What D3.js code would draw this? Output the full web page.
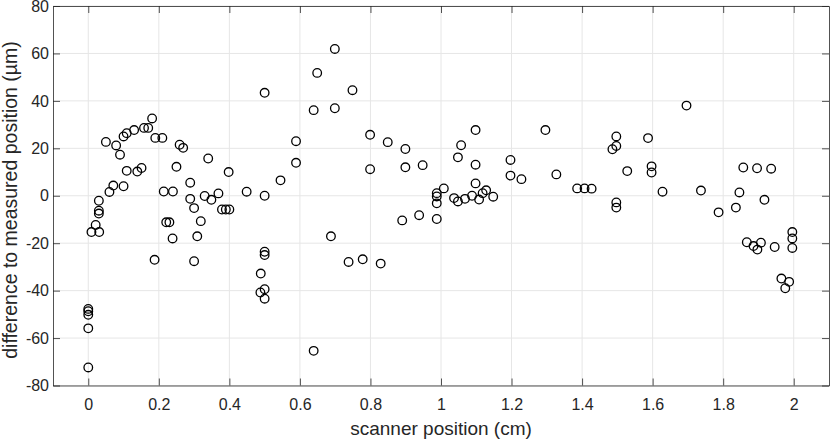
<!DOCTYPE html>
<html>
<head>
<meta charset="utf-8" />
<script src="https://d3js.org/d3.v7.min.js"></script>
<style>
  body { margin: 0; background: #fff; }
  svg text { font-family: "Liberation Sans", Arial, sans-serif; fill: #262626; }
</style>
</head>
<body>
<svg id="chart"></svg>
<script>
// scanner position (cm)
var posX = [0, 0, 0, 0, 0, 0.009, 0.021, 0.031, 0.03, 0.03, 0.03,
  0.05, 0.06, 0.071, 0.079, 0.09, 0.1, 0.1, 0.109, 0.109, 0.13, 0.139, 0.151, 0.158, 0.17, 0.181,
  0.188, 0.19, 0.21, 0.214, 0.221, 0.23, 0.239, 0.24, 0.25, 0.259, 0.269, 0.289, 0.289, 0.3, 0.3,
  0.309, 0.319, 0.33, 0.34, 0.349, 0.369, 0.379, 0.39, 0.4, 0.398, 0.449,
  0.5, 0.5, 0.5, 0.5, 0.489, 0.488, 0.5, 0.5, 0.545, 0.589, 0.589, 0.639, 0.639, 0.649, 0.688,
  0.699, 0.699, 0.738, 0.749, 0.778, 0.799, 0.799, 0.829, 0.849, 0.89, 0.899, 0.899, 0.938, 0.948,
  0.988, 0.988, 0.988, 0.988, 1.008, 1.037, 1.048, 1.048, 1.057, 1.068, 1.088, 1.098, 1.098, 1.098,
  1.108, 1.118, 1.128, 1.148, 1.197, 1.197, 1.228, 1.296, 1.327, 1.386, 1.407, 1.427,
  1.486, 1.497, 1.497, 1.497, 1.497, 1.528, 1.587, 1.597, 1.597, 1.628, 1.696, 1.737, 1.787,
  1.836, 1.846, 1.857, 1.867, 1.886, 1.896, 1.897, 1.907, 1.917, 1.936, 1.946, 1.965, 1.976, 1.987,
  1.996, 1.996, 1.996];

// difference to measured position (um)
var diffY = [-47.7, -48.7, -50.2, -55.9, -72.4, -15.3, -12.3, -15.3, -2.1, -6.3, -7.5,
  22.7, 1.6, 4.3, 21.2, 17.3, 25, 4, 26.4, 10.5, 27.7, 10.2, 11.7, 28.6, 28.6, 32.6,
  -27, 24.4, 24.4, 1.8, -11.2, -11.2, -18, 1.8, 12.2, 21.5, 20.2, 5.5, -1.3, -5.2, -27.6,
  -17.1, -10.7, -0.1, 15.7, -1.7, 1, -5.8, -5.8, -5.8, 10, 1.7,
  43.4, 0, -23.6, -25, -32.8, -40.8, -39.4, -43.4, 6.5, 23, 13.9, 36.1, -65.4, 51.8, -17.1,
  61.9, 36.9, -27.9, 44.5, -26.8, 25.7, 11.2, -28.6, 22.6, -10.4, 19.7, 12, -8.2, 12.9,
  1.1, -0.3, -3.2, -9.8, 3.1, -1, -2.4, 16.2, 21.3, -1.3, 0, 27.7, 13.1, 5.2,
  -1.6, 1.1, 2.3, -0.4, 15.1, 8.5, 7, 27.7, 9, 3.1, 3.1, 3,
  19.6, 21, 25, -2.8, -5, 10.4, 24.3, 12.4, 9.8, 1.7, 38, 2.2, -7,
  -5, 1.4, 11.9, -19.6, -21.2, 11.6, -22.7, -19.8, -1.7, 11.4, -21.6, -34.9, -39, -36.3,
  -15.3, -18, -22];

var xTicks = [0, 0.2, 0.4, 0.6, 0.8, 1, 1.2, 1.4, 1.6, 1.8, 2];
var yTicks = [-80, -60, -40, -20, 0, 20, 40, 60, 80];

var width = 830, height = 439;
var margin = {top: 6, right: 1, bottom: 53.5, left: 53};
var chartWidth = width - margin.left - margin.right;
var chartHeight = height - margin.top - margin.bottom;

var svg = d3.select("#chart").attr("width", width).attr("height", height);

var x = d3.scaleLinear().domain([-0.1, 2.1]).range([margin.left, margin.left + chartWidth]);
var y = d3.scaleLinear().domain([-80, 80]).range([margin.top + chartHeight, margin.top]);

// grid
svg.append("g").selectAll("line").data(xTicks).enter().append("line")
  .attr("x1", d => x(d)).attr("x2", d => x(d))
  .attr("y1", margin.top).attr("y2", margin.top + chartHeight)
  .attr("stroke", "#e6e6e6").attr("stroke-width", 1);
svg.append("g").selectAll("line").data(yTicks).enter().append("line")
  .attr("x1", margin.left).attr("x2", margin.left + chartWidth)
  .attr("y1", d => y(d)).attr("y2", d => y(d))
  .attr("stroke", "#e6e6e6").attr("stroke-width", 1);

// axes (ticks inward, box on all sides)
var tickLen = 7;
var fmt = d => String(d);
svg.append("g").attr("transform", "translate(0," + (margin.top + chartHeight) + ")")
  .call(d3.axisBottom(x).tickValues(xTicks).tickFormat(fmt).tickSizeInner(-tickLen).tickSizeOuter(0).tickPadding(13))
  .call(g => g.selectAll("text").attr("font-size", 16));
svg.append("g").attr("transform", "translate(0," + margin.top + ")")
  .call(d3.axisTop(x).tickValues(xTicks).tickFormat("").tickSizeInner(-tickLen).tickSizeOuter(0));
svg.append("g").attr("transform", "translate(" + margin.left + ",0)")
  .call(d3.axisLeft(y).tickValues(yTicks).tickFormat(fmt).tickSizeInner(-tickLen).tickSizeOuter(0).tickPadding(4))
  .call(g => g.selectAll("text").attr("font-size", 16));
svg.append("g").attr("transform", "translate(" + (margin.left + chartWidth) + ",0)")
  .call(d3.axisRight(y).tickValues(yTicks).tickFormat("").tickSizeInner(-tickLen).tickSizeOuter(0));

svg.selectAll(".domain").attr("stroke", "#262626").attr("stroke-width", 0.8);
svg.selectAll(".tick line").attr("stroke", "#262626").attr("stroke-width", 0.8);
svg.selectAll(".tick text").attr("fill", "#262626");

// points
var pts = posX.map((d, i) => ({x: d, y: diffY[i]}));
svg.append("g").selectAll("circle").data(pts).enter().append("circle")
  .attr("cx", d => x(d.x)).attr("cy", d => y(d.y)).attr("r", 4.3)
  .attr("fill", "none").attr("stroke", "#000").attr("stroke-width", 1.3);

// labels
svg.append("text").attr("x", x(1)).attr("y", 435)
  .attr("text-anchor", "middle").attr("font-size", 19)
  .text("scanner position (cm)");
svg.append("text")
  .attr("transform", "translate(16.5,200) rotate(-90)")
  .attr("text-anchor", "middle").attr("font-size", 19.5)
  .text("difference to measured position (µm)");
</script>
</body>
</html>
